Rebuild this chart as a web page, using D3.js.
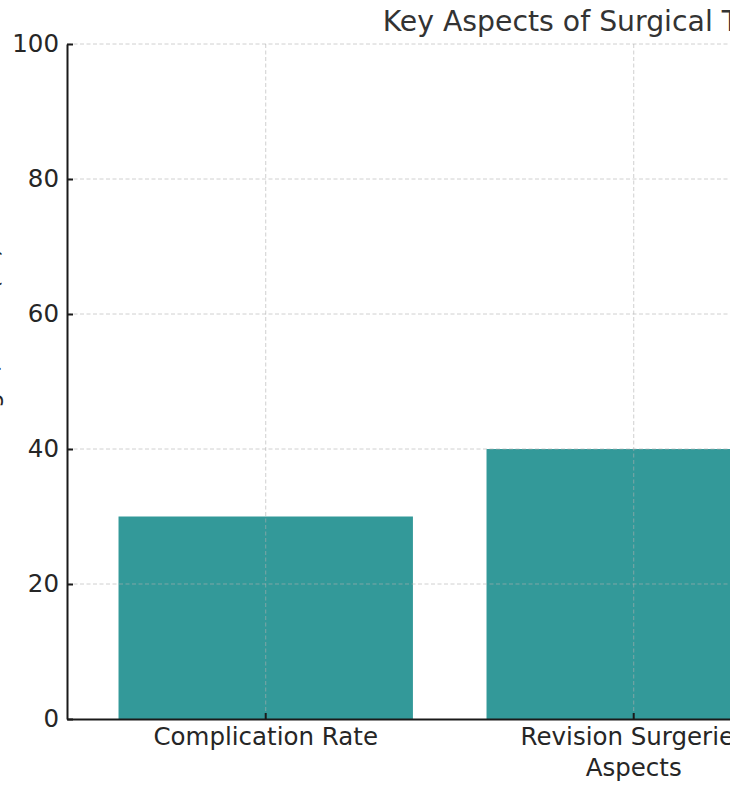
<!DOCTYPE html>
<html>
<head>
<meta charset="utf-8">
<script src="https://cdn.jsdelivr.net/npm/d3@7"></script>
<style>
  html, body { margin: 0; padding: 0; background: #ffffff; }
  svg { display: block; font-family: "DejaVu Sans", sans-serif; }
</style>
</head>
<body>
<div id="chart"></div>
<script>
// Data
const categories = ["Complication Rate", "Revision Surgeries", "Patient Satisfaction"];
const values = [30, 40, 85];
const yTicks = [0, 20, 40, 60, 80, 100];
const titleText = "Key Aspects of Surgical Treatment";
const xLabelText = "Aspects";
const yLabelText = "Percentage / Rate (%)";

const width = 730, height = 785;
const plotLeft = 67, plotTop = 44, plotBottom = 719;
const step = 368;
const plotRight = plotLeft + step * (categories.length - 0.2 + 2 * 0.14);
const labelSize = "24.5px";

const svg = d3.select("#chart").append("svg")
  .attr("width", width).attr("height", height);

const x = d3.scaleBand()
  .domain(categories)
  .range([plotLeft, plotRight])
  .paddingInner(0.2)
  .paddingOuter(0.14);

const y = d3.scaleLinear().domain([0, 100]).range([plotBottom, plotTop]);

// Bars
svg.append("g").selectAll("rect")
  .data(values)
  .join("rect")
  .attr("x", (d, i) => x(categories[i]))
  .attr("y", d => y(d))
  .attr("width", x.bandwidth())
  .attr("height", d => y(0) - y(d))
  .attr("fill", "#339999");

// Dashed grid over the bars
const grid = svg.append("g")
  .attr("stroke", "#b0b0b0")
  .attr("stroke-opacity", 0.6)
  .attr("stroke-width", 1)
  .attr("stroke-dasharray", "4,2.5");
grid.selectAll(".gy").data(yTicks.filter(t => t > 0)).join("line")
  .attr("x1", plotLeft).attr("x2", plotRight)
  .attr("y1", d => y(d)).attr("y2", d => y(d));
grid.selectAll(".gx").data(categories).join("line")
  .attr("x1", d => x(d) + x.bandwidth() / 2).attr("x2", d => x(d) + x.bandwidth() / 2)
  .attr("y1", plotTop).attr("y2", plotBottom);

// Axes (ticks pointing into the plot)
const yAxis = svg.append("g")
  .attr("transform", `translate(${plotLeft},0)`)
  .call(d3.axisLeft(y).tickValues(yTicks).tickSizeInner(-6).tickSizeOuter(0).tickPadding(8));
const xAxis = svg.append("g")
  .attr("transform", `translate(0,${plotBottom})`)
  .call(d3.axisBottom(x).tickSizeInner(-6).tickSizeOuter(0).tickPadding(9));

[yAxis, xAxis].forEach(ax => {
  ax.select(".domain").attr("stroke", "#1a1a1a").attr("stroke-width", 2);
  ax.selectAll(".tick line").attr("stroke", "#1a1a1a").attr("stroke-width", 2);
  ax.selectAll(".tick text")
    .attr("fill", "#262626")
    .style("font-family", "DejaVu Sans, sans-serif")
    .style("font-size", labelSize);
});

// Title
svg.append("text")
  .attr("x", (plotLeft + plotRight) / 2 - 9.5)
  .attr("y", 31)
  .attr("text-anchor", "middle")
  .attr("fill", "#333333")
  .style("font-size", "28.3px")
  .text(titleText);

// Axis labels
svg.append("text")
  .attr("x", (plotLeft + plotRight) / 2)
  .attr("y", 776)
  .attr("text-anchor", "middle")
  .attr("fill", "#262626")
  .style("font-size", labelSize)
  .text(xLabelText);

svg.append("text")
  .attr("transform", `translate(-2.5,${(plotTop + plotBottom) / 2}) rotate(-90)`)
  .attr("text-anchor", "middle")
  .attr("fill", "#262626")
  .style("font-size", labelSize)
  .text(yLabelText);
</script>
</body>
</html>
